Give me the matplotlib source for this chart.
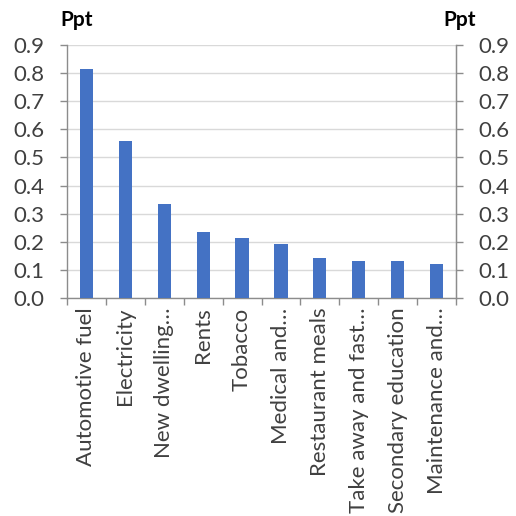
import matplotlib
matplotlib.use("Agg")
import matplotlib.pyplot as plt
import numpy as np

categories = [
    "Automotive fuel", "Electricity", "New dwelling…", "Rents", "Tobacco",
    "Medical and…", "Restaurant meals", "Take away and fast…",
    "Secondary education", "Maintenance and…",
]
values = [0.815, 0.56, 0.335, 0.235, 0.214, 0.193, 0.142, 0.132, 0.132, 0.122]
yticks = [0.0, 0.1, 0.2, 0.3, 0.4, 0.5, 0.6, 0.7, 0.8, 0.9]

plt.rcParams["font.family"] = ["Lato", "DejaVu Sans"]
grey = "#8c8c8c"
text_col = "#404040"

fig = plt.figure(figsize=(5.16, 5.16), dpi=100)
ax = fig.add_axes([67 / 516, 1 - 298 / 516, 389 / 516, 253 / 516])
x = np.arange(len(categories))
ax.bar(x, values, width=0.34, color="#4472C4", zorder=3)
ax.set_xlim(-0.5, len(categories) - 0.5)
ax.set_ylim(0, 0.9)
ax.set_yticks(yticks)
ax.set_yticklabels([f"{v:.1f}" for v in yticks])
ax.grid(axis="y", color="#d9d9d9", linewidth=1, zorder=0)

ax.set_xticks(x)
ax.set_xticklabels(categories, rotation=90, fontsize=16, color=text_col)
ax.tick_params(axis="x", length=0, pad=7)
ax.set_xticks(np.arange(-0.5, len(categories)), minor=True)
ax.tick_params(axis="x", which="minor", length=5, color=grey, width=1)
ax.tick_params(axis="y", length=5, color=grey, width=1, labelsize=16,
               labelcolor=text_col, pad=11)

ax.spines["top"].set_visible(False)
for side in ("left", "right", "bottom"):
    ax.spines[side].set_color(grey)
    ax.spines[side].set_linewidth(1)

ax2 = ax.twinx()
ax2.set_ylim(0, 0.9)
ax2.set_yticks(yticks)
ax2.set_yticklabels([f"{v:.1f}" for v in yticks])
ax2.tick_params(axis="y", length=5, color=grey, width=1, labelsize=16,
                labelcolor=text_col, pad=11)
for side in ("top", "left", "bottom"):
    ax2.spines[side].set_visible(False)
ax2.spines["right"].set_color(grey)

fig.text(60 / 516, 1 - 20 / 516, "Ppt", fontsize=15, fontweight="bold",
         va="center", ha="left")
fig.text(476 / 516, 1 - 20 / 516, "Ppt", fontsize=15, fontweight="bold",
         va="center", ha="right")

fig.savefig("out.png", dpi=100)
